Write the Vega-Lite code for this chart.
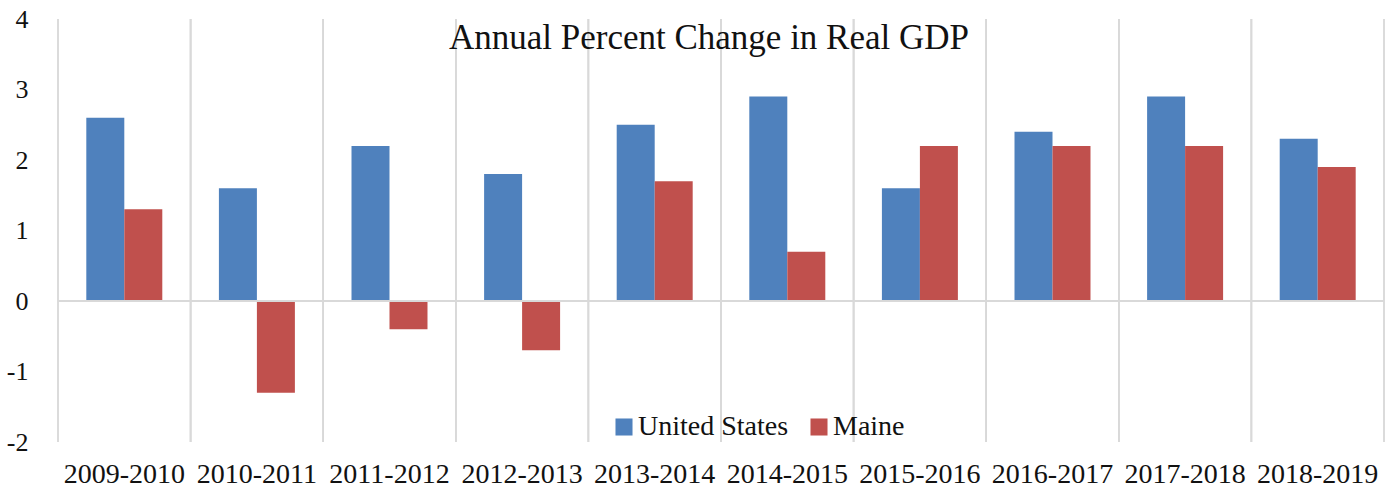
{
  "$schema": "https://vega.github.io/schema/vega-lite/v6.json",
  "autosize": {"type": "none"},
  "width": 1326,
  "height": 423,
  "padding": {"left": 58, "top": 19, "right": 8, "bottom": 51},
  "background": "white",
  "config": {
    "view": {"stroke": null},
    "font": "Liberation Serif",
    "axis": {"labelFont": "Liberation Serif"},
    "legend": {"labelFont": "Liberation Serif"}
  },
  "title": {
    "text": "Annual Percent  Change in Real GDP",
    "font": "Liberation Serif",
    "fontSize": 35,
    "fontWeight": "normal",
    "color": "#111111",
    "anchor": "middle",
    "offset": -50,
    "dx": -12
  },
  "data": {
    "values": [
      {"period": "2009-2010", "series": "United States", "value": 2.6},
      {"period": "2009-2010", "series": "Maine", "value": 1.3},
      {"period": "2010-2011", "series": "United States", "value": 1.6},
      {"period": "2010-2011", "series": "Maine", "value": -1.3},
      {"period": "2011-2012", "series": "United States", "value": 2.2},
      {"period": "2011-2012", "series": "Maine", "value": -0.4},
      {"period": "2012-2013", "series": "United States", "value": 1.8},
      {"period": "2012-2013", "series": "Maine", "value": -0.7},
      {"period": "2013-2014", "series": "United States", "value": 2.5},
      {"period": "2013-2014", "series": "Maine", "value": 1.7},
      {"period": "2014-2015", "series": "United States", "value": 2.9},
      {"period": "2014-2015", "series": "Maine", "value": 0.7},
      {"period": "2015-2016", "series": "United States", "value": 1.6},
      {"period": "2015-2016", "series": "Maine", "value": 2.2},
      {"period": "2016-2017", "series": "United States", "value": 2.4},
      {"period": "2016-2017", "series": "Maine", "value": 2.2},
      {"period": "2017-2018", "series": "United States", "value": 2.9},
      {"period": "2017-2018", "series": "Maine", "value": 2.2},
      {"period": "2018-2019", "series": "United States", "value": 2.3},
      {"period": "2018-2019", "series": "Maine", "value": 1.9}
    ]
  },
  "layer": [
    {
      "mark": {"type": "bar"},
      "encoding": {
        "x": {
          "field": "period",
          "type": "nominal",
          "sort": null,
          "scale": {"paddingInner": 0, "paddingOuter": 0},
          "axis": {
            "title": null,
            "bandPosition": 0.5,
            "labelAngle": 0,
            "labelFont": "Liberation Serif",
            "labelFontSize": 28,
            "labelColor": "#111111",
            "labelPadding": 18,
            "ticks": false,
            "domain": false,
            "grid": false
          }
        },
        "xOffset": {
          "field": "series",
          "type": "nominal",
          "sort": ["United States", "Maine"],
          "scale": {"paddingInner": 0, "paddingOuter": 0.745}
        },
        "y": {
          "field": "value",
          "type": "quantitative",
          "scale": {"domain": [-2, 4], "nice": false, "zero": false},
          "axis": {
            "title": null,
            "values": [-2, -1, 0, 1, 2, 3, 4],
            "labelExpr": "'' + datum.value",
            "labelFont": "Liberation Serif",
            "labelFontSize": 26,
            "labelColor": "#111111",
            "labelPadding": 30,
            "ticks": false,
            "domain": false,
            "grid": false
          }
        },
        "color": {
          "field": "series",
          "type": "nominal",
          "sort": ["United States", "Maine"],
          "scale": {"domain": ["United States", "Maine"], "range": ["#4F81BD", "#C0504D"]},
          "legend": {
            "title": null,
            "orient": "none",
            "legendX": 552,
            "legendY": 394,
            "direction": "horizontal",
            "symbolType": "square",
            "symbolSize": 290,
            "symbolStrokeWidth": 0,
            "labelFont": "Liberation Serif",
            "labelFontSize": 28,
            "labelColor": "#111111",
            "labelOffset": 0,
            "columnPadding": 16
          }
        }
      }
    },
    {
      "mark": {"type": "rule", "color": "#d9d9d9", "strokeWidth": 1.5},
      "encoding": {
        "x": {"field": "period", "type": "nominal", "sort": null, "bandPosition": 0}
      }
    },
    {
      "mark": {"type": "rule", "color": "#d9d9d9", "strokeWidth": 1.5},
      "encoding": {
        "x": {"field": "period", "type": "nominal", "sort": null, "bandPosition": 1}
      }
    },
    {
      "mark": {"type": "rule", "color": "#d9d9d9", "strokeWidth": 1.5},
      "encoding": {
        "y": {"datum": 0}
      }
    }
  ]
}
